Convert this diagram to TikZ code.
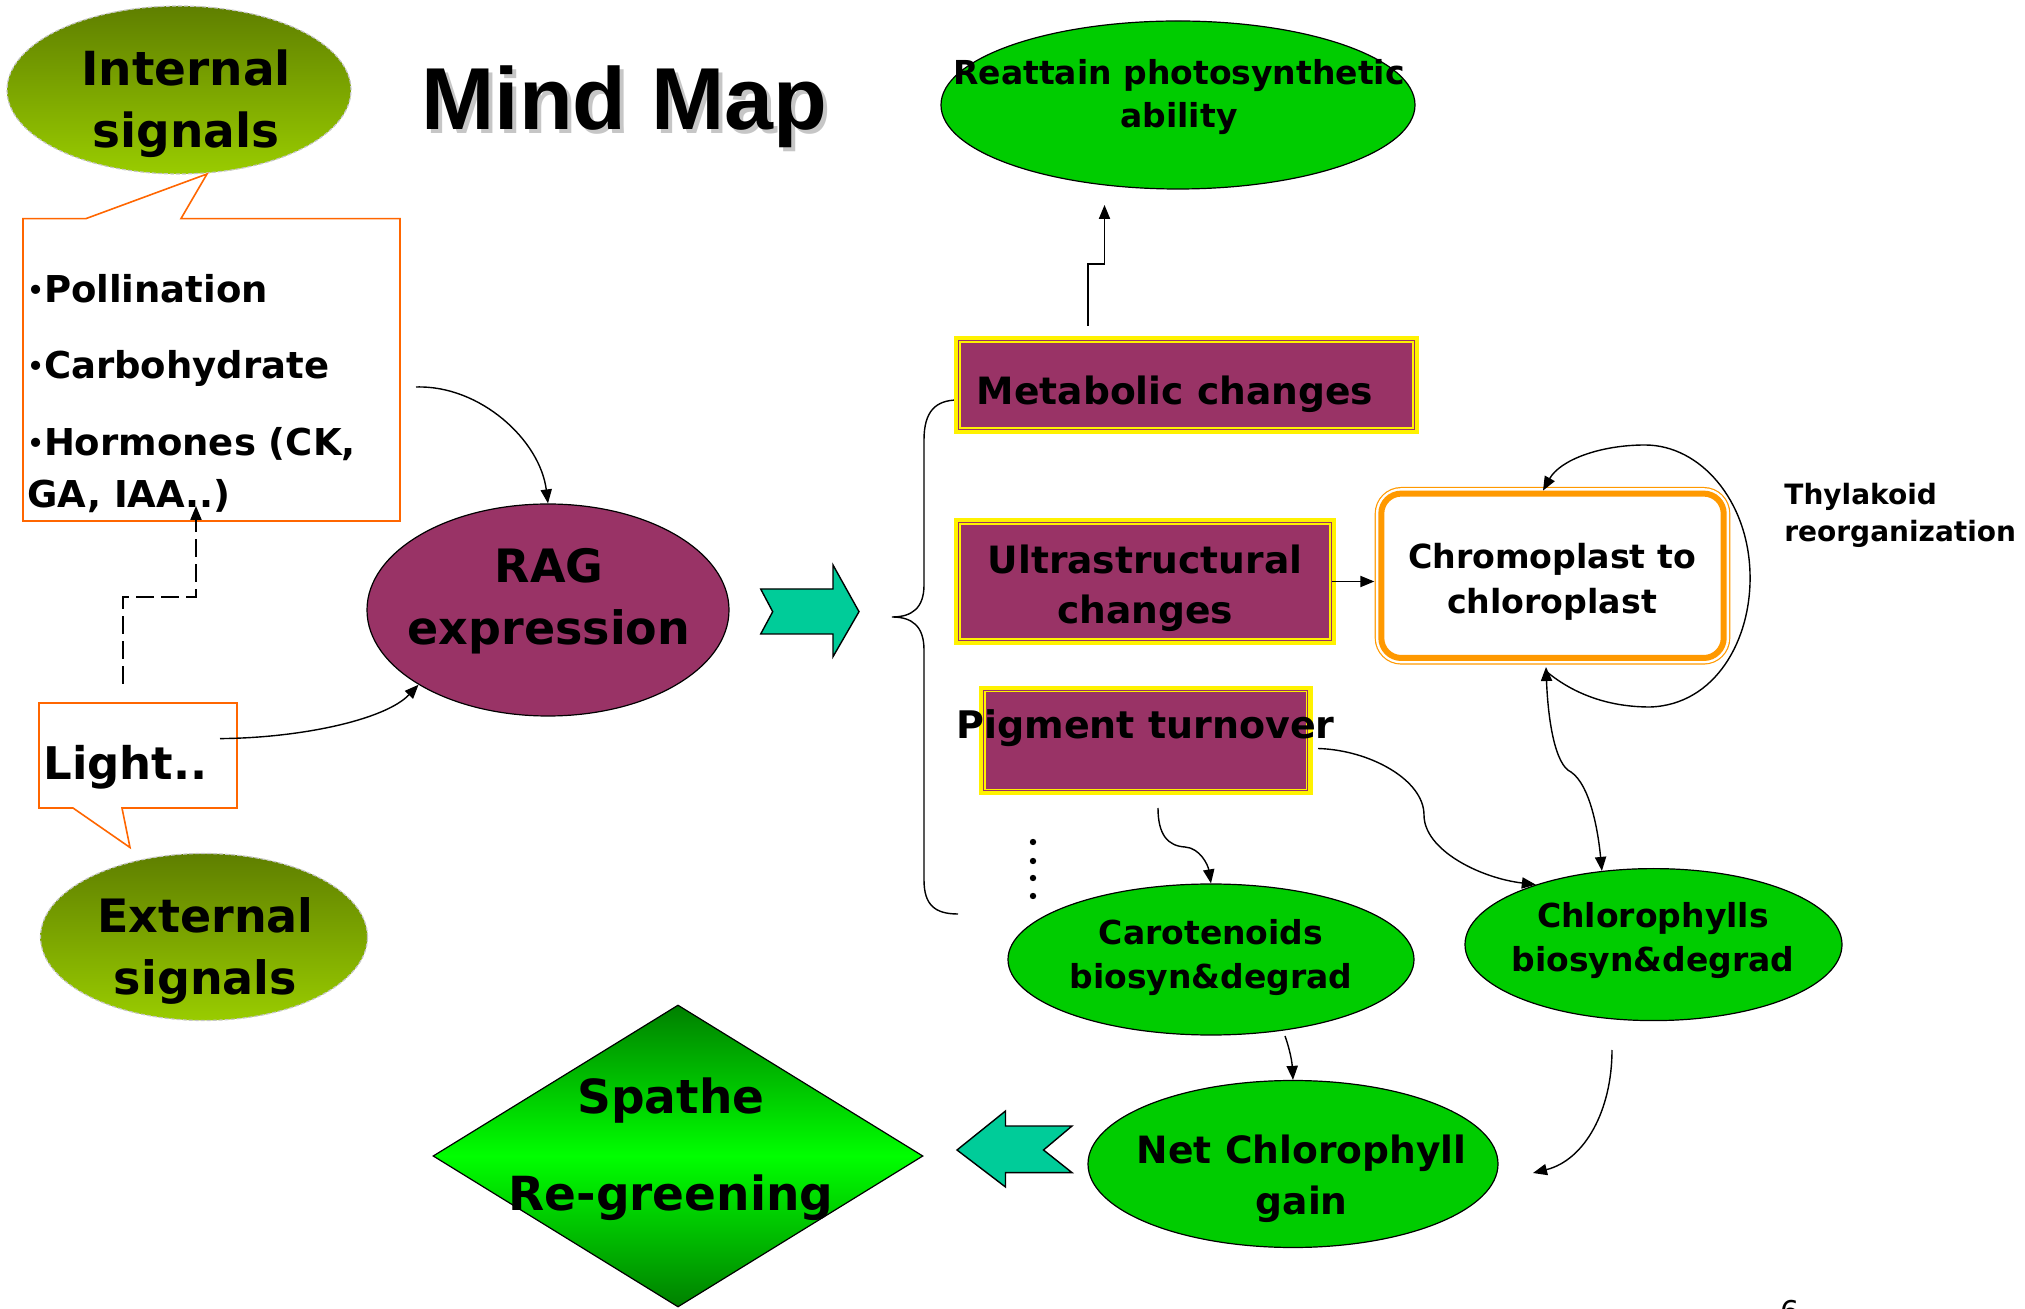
\documentclass[tikz,border=0pt]{standalone}
\usepackage{fontspec}
\setmainfont{DejaVu Sans}
\newfontfamily\titlefont{Liberation Sans}
\usetikzlibrary{shapes.geometric,arrows.meta,calc}
\definecolor{plum}{RGB}{153,51,102}
\definecolor{leaf}{RGB}{0,204,0}
\definecolor{tealc}{RGB}{0,204,153}
\definecolor{calloutc}{RGB}{255,102,0}
\definecolor{chromoc}{RGB}{255,153,0}
\definecolor{olivetop}{RGB}{95,127,0}
\definecolor{olivebot}{RGB}{153,204,0}
\definecolor{dkgreen}{RGB}{0,128,0}
\definecolor{brgreen}{RGB}{0,255,0}
\newcommand{\fsz}[2]{\fontsize{#1pt}{#2pt}\selectfont\bfseries}
\newcommand{\smbul}{{\fontsize{13pt}{13pt}\selectfont\raisebox{1.5pt}{•}}}
\begin{document}
\begin{tikzpicture}[x=0.5pt,y=-0.5pt,
  txt/.style={inner sep=0pt, align=center},
  oval/.style={ellipse, draw=black, line width=0.6pt, inner sep=0pt},
  sig/.style={ellipse, inner sep=0pt, top color=olivetop, bottom color=olivebot, draw=gray!45, dash pattern=on 2pt off 1pt, line width=0.6pt},
  mbox/.style={rectangle, inner sep=0pt, fill=plum, draw=yellow, line width=0.65pt, double=plum, double distance=0.5pt, preaction={draw=yellow, line width=4.8pt}},
  chromobox/.style={rectangle, rounded corners=10pt, inner sep=0pt, fill=white, draw=chromoc, line width=3pt, preaction={draw=chromoc, line width=6.6pt}, preaction={draw=white, line width=5.4pt}},
  calloutline/.style={draw=calloutc, fill=white, line width=0.8pt, line join=miter},
  tealarrow/.style={fill=tealc, draw=black, line width=0.7pt, line join=miter},
  tip/.style={Triangle[length=7pt,width=5.6pt]},
  conn/.style={line width=0.7pt, -{Triangle[length=7pt,width=5.6pt]}},
  conntwo/.style={line width=0.7pt, {Triangle[length=7pt,width=5.6pt]}-{Triangle[length=7pt,width=5.6pt]}}
]
\useasboundingbox (0,0) rectangle (2025,1309);

% Internal signals
\node[sig, minimum width=172pt, minimum height=84pt] (internal) at (179,90) {};
\node[txt, font=\fsz{23.5}{31}] (internalT) at (186,104) {Internal\\signals};

% Title
\node[anchor=base west, inner sep=0pt, text=gray!45, font=\titlefont\fontsize{44pt}{50pt}\selectfont\bfseries] (titleS) at (425,134) {Mind Map};
\node[anchor=base west, inner sep=0pt, font=\titlefont\fontsize{44pt}{50pt}\selectfont\bfseries] (title) at (421,130) {Mind Map};

% Internal callout
\draw[calloutline] (181,218.6) -- (400,218.6) -- (400,521) -- (23,521) -- (23,218.6) -- (86,218.6) -- (207,174) -- cycle;
\node[anchor=north west, inner sep=0pt, align=left, font=\fsz{18.5}{26}] (intlist) at (27,274) {\smbul Pollination\\[12pt]\smbul Carbohydrate\\[12.5pt]\smbul Hormones (CK,\\GA, IAA..)};

% Light callout
\draw[calloutline] (39,703) -- (237,703) -- (237,808) -- (122,808) -- (130,847.5) -- (73,808) -- (39,808) -- cycle;
\node[anchor=base west, inner sep=0pt, font=\fsz{22.5}{27}] (light) at (43,780) {Light..};

% External signals
\node[sig, minimum width=163.5pt, minimum height=83.5pt] (external) at (204,937) {};
\node[txt, font=\fsz{23}{31}] (externalT) at (205.5,951) {External\\signals};

% RAG
\node[oval, fill=plum, minimum width=181pt, minimum height=106pt] (rag) at (548,610) {};
\node[txt, font=\fsz{23}{31}] (ragT) at (549,601) {RAG\\expression};

\coordinate (listout) at (416,387);
\draw[conn] (listout) .. controls (480,385) and (540,440) .. (rag.north);
\coordinate (lightout) at (220,738.6);
\draw[conn] (lightout) .. controls (300,738) and (385,720) .. (rag.210);
\coordinate (dstart) at (123,684);
\coordinate (dend) at (196,506);
\draw[conn, dash pattern=on 9pt off 3.5pt] (dstart) -- (123,597) -- (196,597) -- (dend);

% teal arrows
\draw[tealarrow] (760.7,589) -- (833,589) -- (833,565) -- (859,611.7) -- (833,656.7) -- (833,634) -- (760.7,634) -- (772.7,611.7) -- cycle;
\draw[tealarrow] (957,1150) -- (1005.5,1111) -- (1005.5,1126) -- (1072,1126) -- (1043.5,1150) -- (1072,1172.6) -- (1005.5,1172.6) -- (1005.5,1187) -- cycle;

% Brace
\draw[line width=0.7pt] (958,400) .. controls (935,400) and (924,412) .. (924,440) -- (924,585) .. controls (924,608) and (912,617) .. (892,617) .. controls (912,617) and (924,626) .. (924,650) -- (924,880) .. controls (924,905) and (935,914) .. (958,914);

% Reattain
\node[oval, fill=leaf, minimum width=237pt, minimum height=84pt] (reattain) at (1178,105) {};
\node[txt, font=\fsz{16.5}{21.5}] (reattainT) at (1179,97) {Reattain photosynthetic\\ability};

% Metabolic
\node[mbox, minimum width=227.7pt, minimum height=44.2pt] (metab) at (1186.5,385) {};
\node[anchor=base, inner sep=0pt, font=\fsz{18.8}{25}] (metabT) at (1175,405) {Metabolic changes};
\coordinate (mstart) at (1088,326);
\coordinate (mend) at (1104.5,205);
\draw[conn] (mstart) -- (1088,264) -- (1104.5,264) -- (mend);

% Ultrastructural
\node[mbox, minimum width=186.2pt, minimum height=58.7pt] (ultra) at (1145,581.5) {};
\node[txt, font=\fsz{18.8}{25}] (ultraT) at (1145,588) {Ultrastructural\\changes};

% Pigment
\node[mbox, minimum width=162pt, minimum height=50.15pt] (pigment) at (1145.7,740.5) {};
\node[anchor=base, inner sep=0pt, font=\fsz{19}{25}] (pigmentT) at (1145.5,738.6) {Pigment turnover};

% dots
\foreach \yy in {842,861,878,896} \fill (1033,\yy) circle[radius=1.6pt];

% Chromoplast
\node[chromobox, minimum width=171.2pt, minimum height=82.2pt] (chromo) at (1552.5,575.8) {};
\node[txt, font=\fsz{16.6}{22.5}] (chromoT) at (1552,582) {Chromoplast to\\chloroplast};
\draw[conn, shorten >=2pt] (ultra.east) -- (ultra.east -| chromo.west);

% Thylakoid loop
\coordinate (loopstart) at (1547,672);
\draw[conn] (loopstart) .. controls (1575,695) and (1610,707) .. (1650,707) .. controls (1715,705) and (1752,640) .. (1750,573) .. controls (1748,500) and (1700,445) .. (1645,445) .. controls (1600,445) and (1560,460) .. (chromo.north -| 1543,0);
\node[anchor=north west, inner sep=0pt, align=left, font=\fsz{14}{18.5}] (thyl) at (1784,483) {Thylakoid\\reorganization};

% Lower ellipses
\node[oval, fill=leaf, minimum width=203pt, minimum height=75.5pt] (carot) at (1211,959.5) {};
\node[txt, font=\fsz{16.5}{22}] (carotT) at (1211,958) {Carotenoids\\biosyn\&degrad};
\node[oval, fill=leaf, minimum width=188.5pt, minimum height=76pt] (chloro) at (1653.5,944.6) {};
\node[txt, font=\fsz{16.5}{22}] (chloroT) at (1653,941) {Chlorophylls\\biosyn\&degrad};
\node[oval, fill=leaf, minimum width=205pt, minimum height=83.5pt] (net) at (1293,1164) {};
\node[txt, font=\fsz{18.8}{25.5}] (netT) at (1301.7,1178.7) {Net Chlorophyll\\gain};

\coordinate (cstart) at (1546,667);
\draw[conntwo] (cstart) .. controls (1548,720) and (1555,765) .. (1571,772) .. controls (1590,785) and (1598,830) .. (chloro.125);
\coordinate (pig1) at (1158,808);
\draw[conn] (pig1) .. controls (1158,835) and (1168,846) .. (1185,847) .. controls (1200,848) and (1208,865) .. (carot.north);
\coordinate (pig2) at (1318,748.5);
\draw[conn] (pig2) .. controls (1370,750) and (1424,780) .. (1424,815) .. controls (1424,850) and (1480,878) .. (chloro.153);
\coordinate (carout) at (1285,1036);
\draw[conn] (carout) .. controls (1290,1050) and (1292,1062) .. (net.north);
\coordinate (chlout) at (1612,1050);
\coordinate (chlend) at (1533,1173);
\draw[conn] (chlout) .. controls (1612,1110) and (1585,1160) .. (chlend);

% Spathe diamond
\node[diamond, draw=black, line width=0.6pt, inner sep=0pt, minimum width=245pt, minimum height=151pt, top color=dkgreen, bottom color=dkgreen, middle color=brgreen] (spathe) at (678,1156) {};
\node[txt, font=\fsz{23.5}{48.5}] (spatheT) at (671,1149) {Spathe\\Re-greening};

% page number (cut by the page edge, as in the reference)
\node[anchor=base west, inner sep=0pt, font=\fontsize{15pt}{18pt}\selectfont] (pagenum) at (1780,1322) {6};
\end{tikzpicture}
\end{document}
